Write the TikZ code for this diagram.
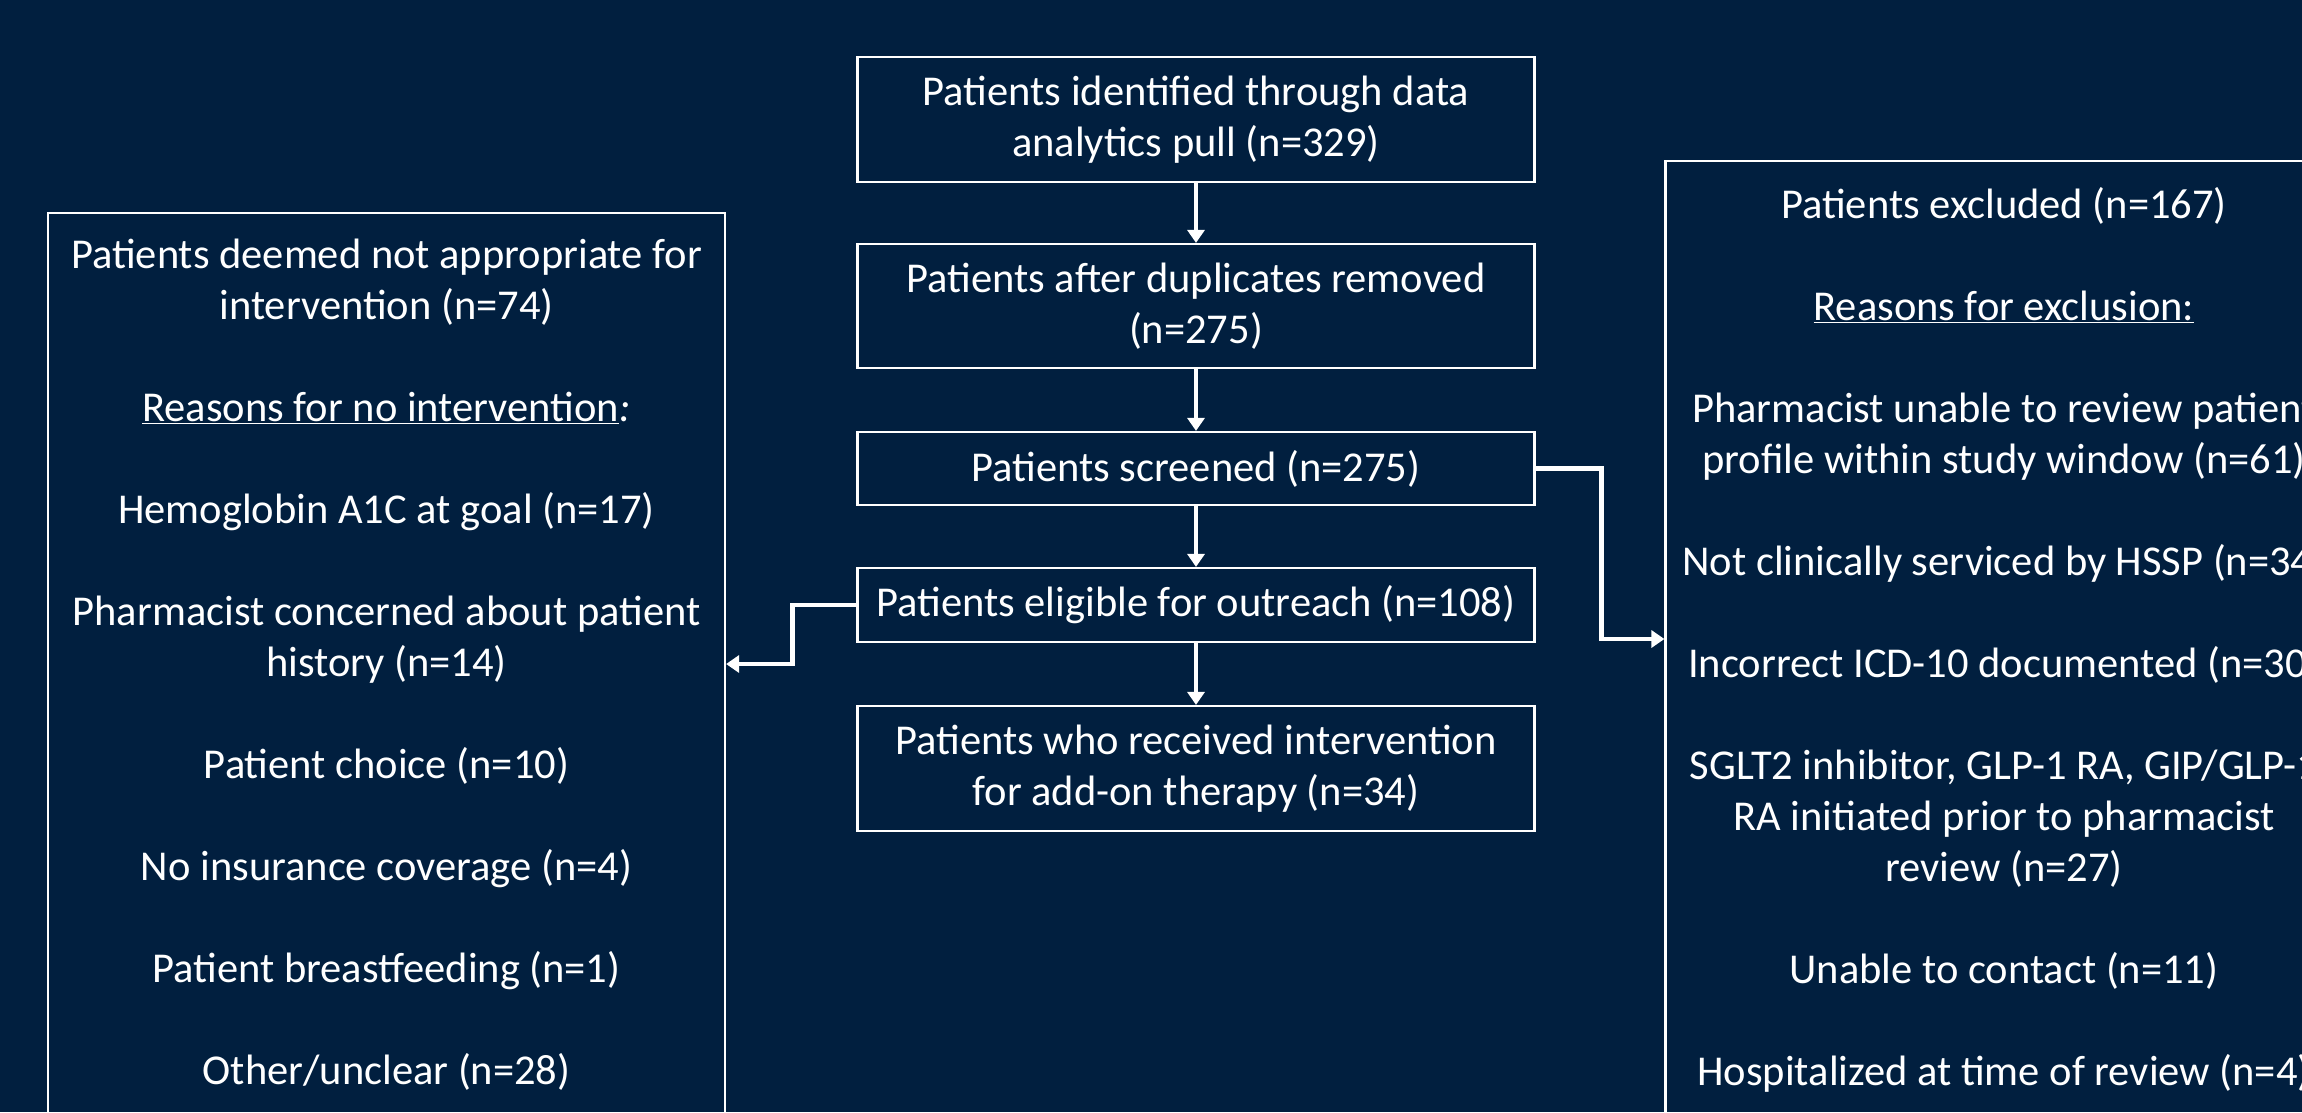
\documentclass[tikz,border=0pt]{standalone}
\usepackage{fontspec}
\setmainfont{Carlito}
\usetikzlibrary{arrows.meta}
\definecolor{bg}{HTML}{011F3F}
\begin{document}
\begin{tikzpicture}[x=1pt,y=-1pt,
  frame/.style={draw=white, line width=2.2pt, minimum width=677pt, inner sep=0pt, text=white,
    align=center, font=\fontsize{42.5}{51}\selectfont},
  txt/.style={text=white, align=center, inner sep=0pt, font=\fontsize{42.5}{51}\selectfont},
  arr/.style={draw=white, line width=4.4pt, -{Triangle[length=13pt,width=17pt]}},
  ]
\path[use as bounding box, fill=bg] (0,0) rectangle (2302,1112);
\clip (0,0) rectangle (2302,1112);

\node[frame, minimum height=125pt] (b1) at (1196,119.5) {Patients identified through data\\analytics pull (n=329)};
\node[frame, minimum height=124pt] (b2) at (1196,306) {Patients after duplicates removed\\(n=275)};
\node[frame, minimum height=73pt] (b3) at (1196,468.5) {Patients screened (n=275)};
\node[frame, minimum height=74pt] (b4) at (1196,605) {Patients eligible for outreach (n=108)};
\node[frame, minimum height=125pt] (b5) at (1196,768.5) {Patients who received intervention\\for add-on therapy (n=34)};

\node[frame, minimum height=902pt] (lbox) at (386.5,664) {};
\node[frame, minimum height=956pt] (rbox) at (2004,639) {};

\node[txt, anchor=north] (ltext) at (386.5,239) {Patients deemed not appropriate for\\intervention (n=74)\\[51pt]
\underline{Reasons for no intervention}\textit{:}\\[51pt]
Hemoglobin A1C at goal (n=17)\\[51pt]
Pharmacist concerned about patient\\history (n=14)\\[51pt]
Patient choice (n=10)\\[51pt]
No insurance coverage (n=4)\\[51pt]
Patient breastfeeding (n=1)\\[51pt]
Other/unclear (n=28)};

\node[txt, anchor=north] (rtext) at (2004,187) {Patients excluded (n=167)\\[51pt]
\underline{Reasons for exclusion:}\\[51pt]
Pharmacist unable to review patient\\profile within study window (n=61)\\[51pt]
Not clinically serviced by HSSP (n=34)\\[51pt]
Incorrect ICD-10 documented (n=30)\\[51pt]
SGLT2 inhibitor, GLP-1 RA, GIP/GLP-1\\RA initiated prior to pharmacist\\review (n=27)\\[51pt]
Unable to contact (n=11)\\[51pt]
Hospitalized at time of review (n=4)};

\draw[arr] (b1) -- (b2);
\draw[arr] (b2) -- (b3);
\draw[arr] (b3) -- (b4);
\draw[arr] (b4) -- (b5);
\draw[arr] (b3.east) -- ++(66,0) |- (rbox.west);
\draw[arr] (b4.west) -- ++(-64,0) |- (lbox.east);
\end{tikzpicture}
\end{document}
